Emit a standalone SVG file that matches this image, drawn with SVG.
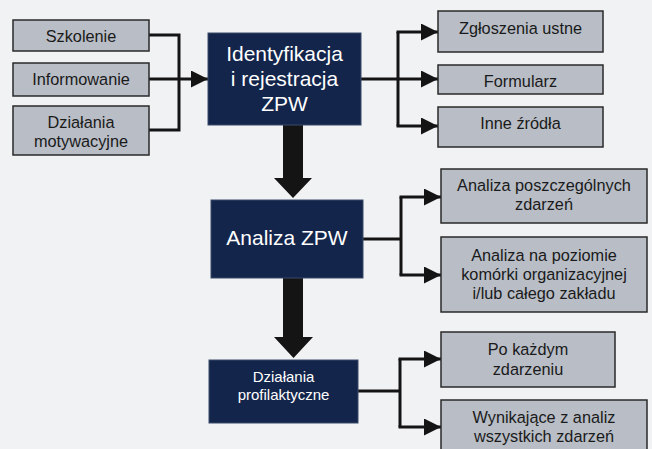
<svg xmlns="http://www.w3.org/2000/svg" width="652" height="449" viewBox="0 0 652 449">
<defs>
<marker id="ah" markerUnits="userSpaceOnUse" markerWidth="17" markerHeight="17" refX="17" refY="8.5" orient="auto">
<path d="M0,0 L17,8.5 L0,17 z" fill="#141414"/>
</marker>
<style>
.g{fill:#b8bdc6;stroke:#2a2a2a;stroke-width:1.5}
.d{fill:#13254a;stroke:#3a4a6a;stroke-width:1}
.gt{font-family:"Liberation Sans",Arial,sans-serif;font-size:16.3px;fill:#1a1a1a;text-anchor:middle}
.dt{font-family:"Liberation Sans",Arial,sans-serif;fill:#ffffff;text-anchor:middle}
.c{fill:none;stroke:#141414;stroke-width:3}
.ca{fill:none;stroke:#141414;stroke-width:3;marker-end:url(#ah)}
.big{fill:#141414}
</style>
</defs>
<rect width="652" height="449" fill="#f1f2f4"/>
<g id="connectors">
<path class="c" d="M149,35 H179 V130 H149"/>
<path class="ca" d="M149,79 H208"/>
<path class="c" d="M361,79 H398 M398,32 V126"/>
<path class="ca" d="M396.5,32 H438"/>
<path class="ca" d="M398,79 H438"/>
<path class="ca" d="M396.5,126 H438"/>
<path class="c" d="M363,239 H401 M401,197 V275"/>
<path class="ca" d="M399.5,197 H441"/>
<path class="ca" d="M399.5,275 H441"/>
<path class="c" d="M358,391 H400 M400,359 V427"/>
<path class="ca" d="M398.5,359 H441"/>
<path class="ca" d="M398.5,427 H441"/>
<polygon class="big" points="283,125 303,125 303,178 312,178 293,198 274,178 283,178"/>
<polygon class="big" points="283,278 303,278 303,337 313,337 293.5,358 274,337 283,337"/>
</g>
<g id="szkolenie"><rect class="g" x="13" y="20" width="136" height="31"/><text class="gt" x="81" y="41.5">Szkolenie</text></g>
<g id="informowanie"><rect class="g" x="13" y="63" width="136" height="33"/><text class="gt" x="81" y="84.5">Informowanie</text></g>
<g id="motywacyjne"><rect class="g" x="13" y="106" width="136" height="49"/><text class="gt" x="81" y="128">Działania</text><text class="gt" x="81" y="147">motywacyjne</text></g>
<g id="identyfikacja"><rect class="d" x="208" y="33" width="153" height="92"/><text class="dt" x="284.5" y="61" font-size="21">Identyfikacja</text><text class="dt" x="284.5" y="86" font-size="21">i rejestracja</text><text class="dt" x="284.5" y="111" font-size="21">ZPW</text></g>
<g id="zgloszenia"><rect class="g" x="438" y="11" width="165" height="41"/><text class="gt" x="520.5" y="33.5">Zgłoszenia ustne</text></g>
<g id="formularz"><rect class="g" x="438" y="65" width="165" height="29"/><text class="gt" x="520.5" y="87">Formularz</text></g>
<g id="inne"><rect class="g" x="438" y="107" width="165" height="40"/><text class="gt" x="520.5" y="128.5">Inne źródła</text></g>
<g id="analiza"><rect class="d" x="211" y="200" width="152" height="78"/><text class="dt" x="287" y="244.5" font-size="21">Analiza ZPW</text></g>
<g id="poszczegolnych"><rect class="g" x="441" y="169" width="206" height="54"/><text class="gt" x="544" y="191">Analiza poszczególnych</text><text class="gt" x="544" y="210">zdarzeń</text></g>
<g id="poziomie"><rect class="g" x="441" y="237" width="206" height="75"/><text class="gt" x="544" y="260.5">Analiza na poziomie</text><text class="gt" x="544" y="279.5">komórki organizacyjnej</text><text class="gt" x="544" y="298.5">i/lub całego zakładu</text></g>
<g id="profilaktyczne"><rect class="d" x="209" y="360" width="149" height="63"/><text class="dt" x="283.5" y="381.5" font-size="15">Działania</text><text class="dt" x="283.5" y="399.5" font-size="15">profilaktyczne</text></g>
<g id="kazdym"><rect class="g" x="441" y="332" width="174" height="55"/><text class="gt" x="528" y="355">Po każdym</text><text class="gt" x="528" y="375">zdarzeniu</text></g>
<g id="wynikajace"><rect class="g" x="441" y="400" width="206" height="55"/><text class="gt" x="544" y="422.5">Wynikające z analiz</text><text class="gt" x="544" y="441.5">wszystkich zdarzeń</text></g>
</svg>
